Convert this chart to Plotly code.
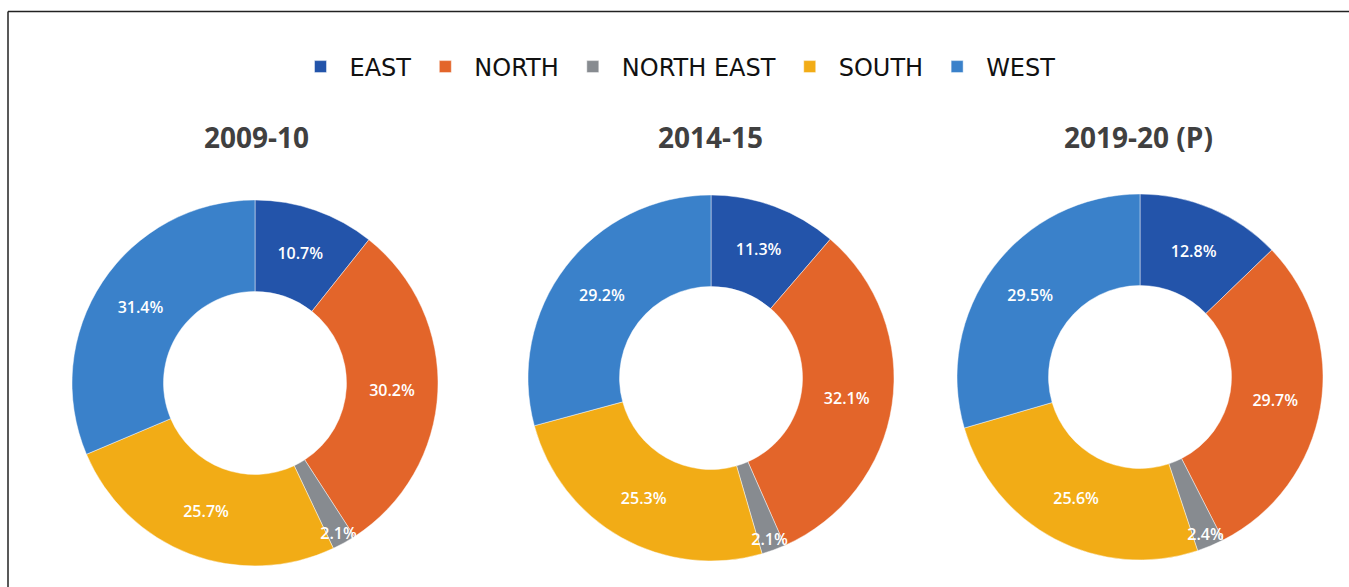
import plotly.graph_objects as go

regions = ["EAST", "NORTH", "NORTH EAST", "SOUTH", "WEST"]
years = ["2009-10", "2014-15", "2019-20 (P)"]
share_2009 = [10.7, 30.2, 2.1, 25.7, 31.4]
share_2014 = [11.3, 32.1, 2.1, 25.3, 29.2]
share_2019 = [12.8, 29.7, 2.4, 25.6, 29.5]
series = [share_2009, share_2014, share_2019]

colors = ["#2354AA", "#E3652A", "#878B90", "#F2AC16", "#3A81CA"]

W, H = 1349, 587
centres = [(255, 383), (711, 378), (1140, 377)]
R = 183
title_x = [256, 710, 1138]

fig = go.Figure()
for i, (vals, yr) in enumerate(zip(series, years)):
    cx, cy = centres[i]
    dom = dict(x=[(cx - R) / W, (cx + R) / W],
               y=[(H - cy - R) / H, (H - cy + R) / H])
    # coloured ring
    fig.add_trace(go.Pie(
        labels=regions, values=vals, name=yr, hole=0.5, sort=False,
        direction="clockwise", rotation=0,
        marker=dict(colors=colors, line=dict(color="rgba(255,255,255,0.45)", width=1)),
        textinfo="none", domain=dom, showlegend=(i == 0),
    ))
    # label layer on top so small-slice labels are not hidden by neighbours
    fig.add_trace(go.Pie(
        labels=regions, values=vals, name=yr, hole=0.5, sort=False,
        direction="clockwise", rotation=0,
        marker=dict(colors=["rgba(0,0,0,0)"] * len(regions), line=dict(width=0)),
        texttemplate="%{value:.1f}%", textposition="inside",
        insidetextorientation="horizontal",
        textfont=dict(family="Open Sans", size=16, color="white", weight=600),
        domain=dom, showlegend=False, hoverinfo="skip",
    ))
    fig.add_annotation(
        text=yr, x=title_x[i] / W, y=(H - 137) / H, xref="paper", yref="paper",
        xanchor="center", yanchor="middle", showarrow=False,
        font=dict(family="Open Sans", size=28, color="#404040", weight="bold"),
    )

# frame lines (top and left)
fig.add_shape(type="line", xref="paper", yref="paper",
              x0=8 / W, x1=1.0, y0=(H - 11.5) / H, y1=(H - 11.5) / H,
              line=dict(color="#222222", width=1.5))
fig.add_shape(type="line", xref="paper", yref="paper",
              x0=8 / W, x1=8 / W, y0=0, y1=(H - 11.5) / H,
              line=dict(color="#222222", width=1.5))

fig.update_layout(
    width=W, height=H,
    margin=dict(l=0, r=0, t=0, b=0),
    paper_bgcolor="white",
    plot_bgcolor="white",
    uniformtext=dict(minsize=16, mode="show"),
    legend=dict(
        orientation="h", x=676 / W, y=(H - 67) / H,
        xanchor="center", yanchor="middle",
        font=dict(family="DejaVu Sans", size=24, color="#111111"),
        traceorder="normal", itemwidth=48,
    ),
)

fig.write_html("out.html", config={"displayModeBar": False},
               post_script="document.body.style.margin='0px';")
